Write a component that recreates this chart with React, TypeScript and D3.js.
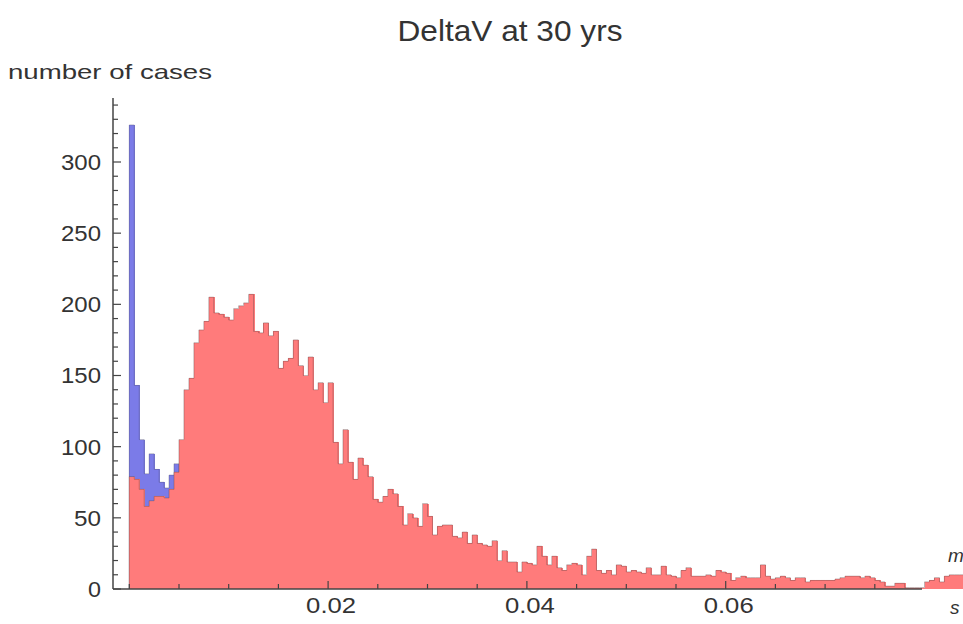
import React from "react";
import * as d3 from "d3";

const BIN_WIDTH = 0.0005;

// counts per bin (bin i = [i*0.0005, (i+1)*0.0005)), red (front) series
const redCounts: number[] = [
  79, 77, 70, 58, 62, 65, 65, 64, 70, 82,
  105, 140, 148, 173, 182, 188, 205, 194, 193, 191,
  189, 197, 199, 201, 207, 181, 180, 187, 178, 181,
  155, 160, 162, 175, 157, 150, 163, 140, 145, 131,
  145, 103, 88, 112, 89, 77, 92, 87, 79, 63,
  61, 65, 70, 67, 58, 45, 53, 50, 44, 60,
  51, 38, 44, 45, 45, 37, 36, 40, 32, 38,
  32, 31, 30, 34, 20, 27, 19, 19, 12, 19,
  18, 17, 30, 23, 17, 23, 15, 13, 17, 18,
  17, 10, 23, 28, 13, 11, 13, 10, 17, 16,
  12, 13, 12, 11, 15, 10, 10, 16, 10, 9,
  8, 13, 15, 9, 9, 9, 10, 9, 13, 12,
  11, 6, 8, 9, 8, 8, 8, 17, 9, 7,
  8, 9, 8, 6, 8, 8, 5, 6, 6, 6,
  6, 6, 7, 8, 9, 9, 9, 8, 9, 8,
  6, 5, 2, 2, 4, 4, 1, 1, 1, 1,
  5, 6, 8, 5, 9, 10, 10, 10,
];

// blue (behind) series, visible only near the origin
const blueCounts: number[] = [326, 143, 105, 81, 95, 84, 75, 71, 80, 88];

const yTickValues: number[] = [0, 50, 100, 150, 200, 250, 300];
const xTickLabels: number[] = [0.02, 0.04, 0.06];
const titleText = "DeltaV at 30 yrs";
const yAxisLabel = "number of cases";

const W = 963;
const H = 624;
const FONT = "'Liberation Sans', Arial, sans-serif";

export default function App() {
  const x = d3.scaleLinear().domain([0, 0.08]).range([129.3, 129.3 + 795.2]);
  const y = d3.scaleLinear().domain([0, 300]).range([589, 162]);

  const redBins = redCounts.map((v, i) => ({ x0: i * BIN_WIDTH, x1: (i + 1) * BIN_WIDTH, v }));
  const blueBins = blueCounts.map((v, i) => ({ x0: i * BIN_WIDTH, x1: (i + 1) * BIN_WIDTH, v }));

  const outline = (bins: { x0: number; x1: number; v: number }[]) => {
    const pts: [number, number][] = [[x(bins[0].x0), y(0)]];
    bins.forEach((b) => {
      pts.push([x(b.x0), y(b.v)]);
      pts.push([x(b.x1), y(b.v)]);
    });
    pts.push([x(bins[bins.length - 1].x1), y(0)]);
    return d3.line()(pts) || "";
  };

  const axisX = 113;
  const axisY = y(0);
  const yMinor = d3.range(0, 341, 10);
  const xMinor = d3.range(0, 0.0751, 0.005);

  const labelWidth = (s: string) => (s.length === 1 ? 13 : s.length === 2 ? 27 : s.length === 3 ? 40 : 50);

  return (
    <svg
      width={W}
      height={H}
      style={{ position: "absolute", left: 0, top: 0, background: "#fff" }}
      fontFamily={FONT}
    >
      <rect x={0} y={0} width={W} height={H} fill="#fff" />
      {/* blue series */}
      <g shapeRendering="crispEdges">
        {blueBins.map((b, i) => (
          <rect
            key={"b" + i}
            x={x(b.x0)}
            y={y(b.v)}
            width={x(b.x1) - x(b.x0) + 1}
            height={y(0) - y(b.v)}
            fill="#7b7be8"
          />
        ))}
      </g>
      <path d={outline(blueBins)} fill="none" stroke="rgba(90,90,130,0.45)" strokeWidth={1} />
      {/* red series */}
      <g shapeRendering="crispEdges">
        {redBins.map((b, i) => (
          <rect
            key={"r" + i}
            x={x(b.x0)}
            y={y(b.v)}
            width={x(b.x1) - x(b.x0) + 1}
            height={y(0) - y(b.v)}
            fill="#ff7b7b"
          />
        ))}
      </g>
      <path d={outline(redBins)} fill="none" stroke="rgba(120,80,80,0.45)" strokeWidth={1} />

      {/* y axis */}
      <line x1={axisX} x2={axisX} y1={axisY} y2={98} stroke="#444" strokeWidth={1.5} />
      {yMinor.map((v) => (
        <line
          key={"ym" + v}
          x1={axisX}
          x2={axisX + (v % 50 === 0 ? 8 : 5)}
          y1={y(v)}
          y2={y(v)}
          stroke="#444"
          strokeWidth={1.2}
        />
      ))}
      {yTickValues.map((v) => (
        <text
          key={"yl" + v}
          x={101}
          y={y(v)}
          dy="0.36em"
          textAnchor="end"
          fontSize={22}
          fill="#333"
          textLength={labelWidth(String(v))}
          lengthAdjust="spacingAndGlyphs"
        >
          {v}
        </text>
      ))}

      {/* x axis */}
      <line x1={axisX} x2={922} y1={axisY} y2={axisY} stroke="#444" strokeWidth={1.5} />
      {xMinor.map((v, i) => {
        const major = xTickLabels.some((t) => Math.abs(t - v) < 1e-9);
        return (
          <line
            key={"xm" + i}
            x1={x(v)}
            x2={x(v)}
            y1={axisY}
            y2={axisY - (major ? 8 : 5)}
            stroke="#444"
            strokeWidth={1.2}
          />
        );
      })}
      {xTickLabels.map((v) => (
        <text
          key={"xl" + v}
          x={x(v) + 3}
          y={613}
          textAnchor="middle"
          fontSize={22}
          fill="#333"
          textLength={50}
          lengthAdjust="spacingAndGlyphs"
        >
          {d3.format(".2f")(v)}
        </text>
      ))}

      {/* axis labels */}
      <text x={948} y={562} fontSize={19} fontStyle="italic" fill="#333">m</text>
      <text x={950} y={614} fontSize={19} fontStyle="italic" fill="#333">s</text>
      <text
        x={8}
        y={79}
        fontSize={21}
        fill="#333"
        textLength={204}
        lengthAdjust="spacingAndGlyphs"
      >
        {yAxisLabel}
      </text>
      <text
        x={510}
        y={41}
        textAnchor="middle"
        fontSize={30}
        fill="#333"
        textLength={225}
        lengthAdjust="spacingAndGlyphs"
      >
        {titleText}
      </text>
    </svg>
  );
}
